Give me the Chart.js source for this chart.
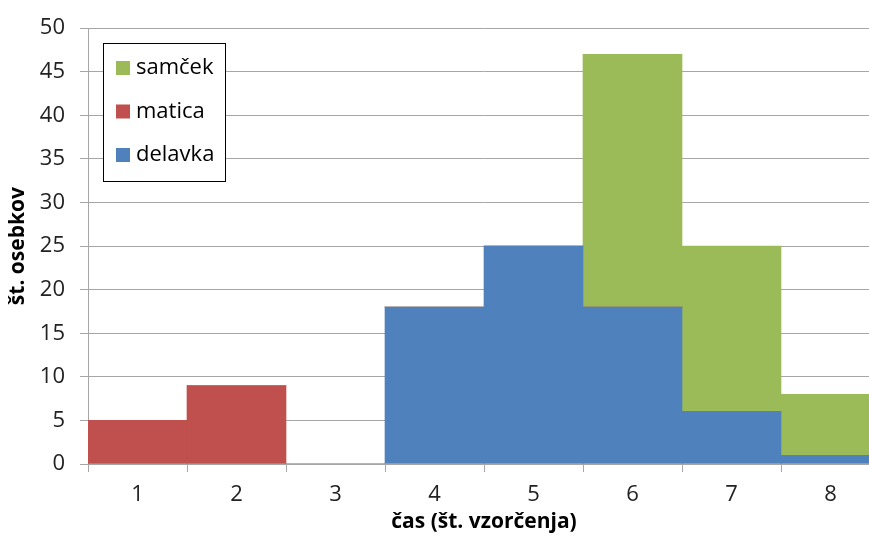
<!DOCTYPE html>
<html>
<head>
<meta charset="utf-8">
<script src="https://cdn.jsdelivr.net/npm/chart.js@4/dist/chart.umd.min.js"></script>
<style>
  html, body { margin: 0; padding: 0; background: #fff; overflow: hidden; }
  #wrap { width: 869px; height: 538px; overflow: hidden; }
  canvas { display: block; }
</style>
</head>
<body>
<div id="wrap"><canvas id="c" width="882" height="538"></canvas></div>
<script>
// Sampling rounds on the x axis
const categories = ['1', '2', '3', '4', '5', '6', '7', '8'];
// Counts per caste for each sampling round
const delavka = [0, 0, 0, 18, 25, 18, 6, 1];
const matica  = [5, 9, 0, 0, 0, 0, 0, 0];
const samcek  = [0, 0, 0, 0, 0, 29, 19, 7];
const yTicks  = [0, 5, 10, 15, 20, 25, 30, 35, 40, 45, 50];

const FONT = '"Open Sans", "Noto Sans", sans-serif';
const GRID = '#a6a6a6';

// Legend drawn as a framed box inside the plot, top-left
const insideLegend = {
  id: 'insideLegend',
  afterDraw(chart) {
    const ctx = chart.ctx;
    const x = 103, y = 43, w = 122, h = 138;
    ctx.save();
    ctx.fillStyle = '#fff';
    ctx.fillRect(x, y, w, h);
    ctx.strokeStyle = '#000';
    ctx.lineWidth = 1;
    ctx.strokeRect(x + 0.5, y + 0.5, w, h);
    const order = chart.data.datasets.slice().reverse();
    ctx.font = '22px ' + FONT;
    ctx.textBaseline = 'middle';
    order.forEach((ds, i) => {
      const cy = 68 + i * 43.5;
      ctx.fillStyle = ds.backgroundColor;
      ctx.fillRect(116, cy - 7, 14, 14);
      ctx.fillStyle = '#000';
      ctx.fillText(ds.label, 136, cy);
    });
    ctx.restore();
  }
};

new Chart(document.getElementById('c'), {
  type: 'bar',
  data: {
    labels: categories,
    datasets: [
      { label: 'delavka', data: delavka, backgroundColor: '#4F81BD' },
      { label: 'matica',  data: matica,  backgroundColor: '#C0504D' },
      { label: 'samček',  data: samcek,  backgroundColor: '#9BBB59' }
    ]
  },
  options: {
    responsive: false,
    animation: false,
    layout: { padding: { top: 27, left: 0, right: 2, bottom: 0 } },
    datasets: { bar: { barPercentage: 1, categoryPercentage: 1, borderWidth: 0 } },
    plugins: {
      legend: { display: false },
      tooltip: { enabled: false }
    },
    scales: {
      x: {
        stacked: true,
        offset: true,
        grid: {
          offset: true,
          drawOnChartArea: false,
          drawTicks: true,
          tickLength: 8,
          color: GRID
        },
        border: { color: GRID, width: 1 },
        ticks: { color: '#222', font: { family: FONT, size: 22 }, padding: 10 },
        title: {
          display: true,
          text: 'čas (št. vzorčenja)',
          color: '#000',
          font: { family: FONT, size: 21, weight: 'bold' },
          padding: { top: 2, bottom: 3 }
        },
        afterFit(scale) { scale.height = 74; }
      },
      y: {
        stacked: true,
        min: 0,
        max: 50,
        afterBuildTicks(scale) { scale.ticks = yTicks.map(v => ({ value: v })); },
        grid: { color: GRID, tickLength: 8, lineWidth: 1 },
        border: { color: GRID, width: 1 },
        ticks: { color: '#222', font: { family: FONT, size: 22 }, padding: 15 },
        title: {
          display: true,
          text: 'št. osebkov',
          color: '#000',
          font: { family: FONT, size: 21, weight: 'bold' },
          padding: { top: 5, bottom: 0 }
        },
        afterFit(scale) { scale.width = 88; }
      }
    }
  },
  plugins: [insideLegend]
});
</script>
</body>
</html>
